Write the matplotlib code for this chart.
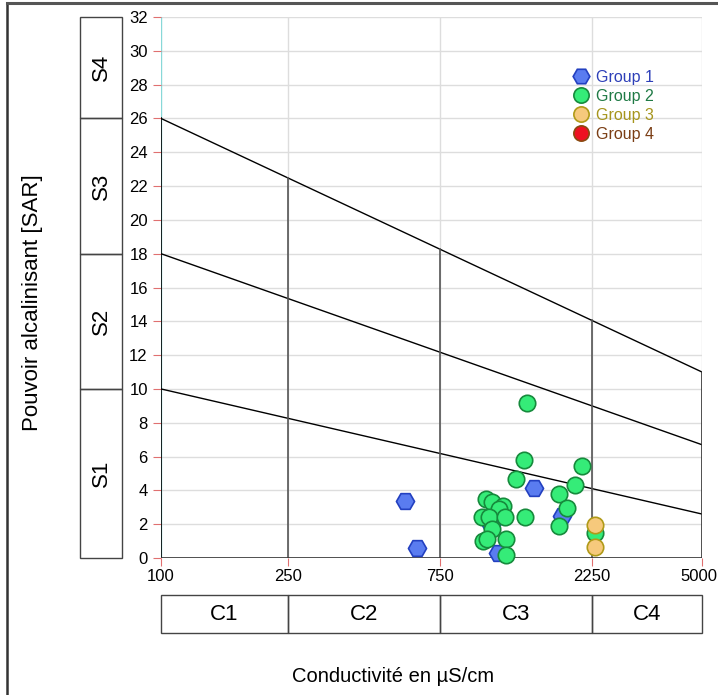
import numpy as np
import matplotlib.pyplot as plt
import matplotlib.transforms as mtransforms
from matplotlib.lines import Line2D
from matplotlib.patches import Rectangle

plt.rcParams['font.family'] = ['Liberation Sans', 'DejaVu Sans']

# data (EC in uS/cm, SAR)
g1_ec  = [582, 635, 1487, 1820, 1147, 1090]
g1_sar = [3.37, 0.62, 4.15, 2.5, 0.28, 1.95]

g2_ec  = [1414, 1384, 2103, 1306, 2000, 1782, 1052, 1099, 1189, 1155, 1880,
          1022, 1075, 1207, 1394, 1099, 1782, 2310, 1216, 1029, 1060, 1216]
g2_sar = [9.15, 5.8, 5.45, 4.7, 4.3, 3.8, 3.5, 3.3, 3.1, 2.9, 2.95,
          2.4, 2.45, 2.4, 2.4, 1.7, 1.9, 1.45, 1.15, 1.0, 1.15, 0.15]

g3_ec  = [2310, 2310]
g3_sar = [1.95, 0.65]

groups = ['Group 1', 'Group 2', 'Group 3', 'Group 4']

# class limits
ec_limits = [100, 250, 750, 2250, 5000]
ec_classes = ['C1', 'C2', 'C3', 'C4']
sar_limits = [0, 10, 18, 26, 32]
sar_classes = ['S1', 'S2', 'S3', 'S4']
# boundary lines: SAR at EC=100 and at EC=5000
line_start = [10, 18, 26]
line_end = [2.6, 6.7, 11.0]

fig = plt.figure(figsize=(7.18, 6.95), dpi=100)

ax = fig.add_axes([161/718, 1-558/695, 541/718, 541/695])
ax.set_xscale('log')
ax.set_xlim(100, 5000)
ax.set_ylim(0, 32)
for s in ax.spines.values():
    s.set_visible(False)

# grid
for yv in range(0, 33, 2):
    ax.plot([100, 5000], [yv, yv], color='#dddddd', lw=1, zorder=0)
for xv in ec_limits[1:]:
    ax.plot([xv, xv], [0, 32], color='#dddddd', lw=1, zorder=0)
ax.plot([100, 100], [0, 32], color='#88d8d8', lw=1, zorder=1)

def top_line(ec, a, b):
    f = np.log10(ec/100)/np.log10(50)
    return a - (a-b)*f

for a, b in zip(line_start, line_end):
    ax.plot([100, 5000], [a, b], color='black', lw=1, zorder=2)
for xv in ec_limits[1:-1]:
    ax.plot([xv, xv], [0, top_line(xv, line_start[-1], line_end[-1])],
            color='#555555', lw=1.2, zorder=2)
ax.plot([100, 100], [0, 26], color='black', lw=1.2, zorder=2)
ax.plot([5000, 5000], [0, line_end[-1]], color='#333333', lw=1.2, zorder=2)
ax.plot([100, 5000], [0, 0], color='#333333', lw=1.2, zorder=2)

ax.set_yticks(range(0, 33, 2))
ax.set_xticks(ec_limits)
ax.set_xticklabels([str(v) for v in ec_limits])
ax.xaxis.set_minor_locator(plt.NullLocator())
ax.tick_params(axis='both', colors='#e07070', labelcolor='black', labelsize=12,
               length=6, width=0.8)
ax.tick_params(axis='x', pad=2)
# keep the last tick label inside the figure
last = ax.get_xticklabels()[-1]
last.set_transform(last.get_transform() +
                   mtransforms.ScaledTranslation(-3/100, 0, fig.dpi_scale_trans))

ax.scatter(g1_ec, g1_sar, marker='H', s=170, facecolor='#5a7cf0',
           edgecolor='#2340c0', lw=1.2, zorder=3, clip_on=False)
ax.scatter(g2_ec, g2_sar, marker='o', s=140, facecolor='#35ec78',
           edgecolor='#168a3c', lw=1.2, zorder=4, clip_on=False)
ax.scatter(g3_ec, g3_sar, marker='o', s=140, facecolor='#f6c97c',
           edgecolor='#b09a18', lw=1.2, zorder=5, clip_on=False)

handles = [
    Line2D([], [], ls='none', marker='H', ms=12, mfc='#5a7cf0', mec='#2340c0', mew=1.2),
    Line2D([], [], ls='none', marker='o', ms=11, mfc='#35ec78', mec='#168a3c', mew=1.2),
    Line2D([], [], ls='none', marker='o', ms=11, mfc='#f6c97c', mec='#b09a18', mew=1.2),
    Line2D([], [], ls='none', marker='o', ms=11, mfc='#ee1122', mec='#8a4a10', mew=1.2),
]
ax.legend(handles, groups, loc='upper left', bbox_to_anchor=(561/718, 1-62/695),
          bbox_transform=fig.transFigure, frameon=False, fontsize=11.5,
          handletextpad=0.2, labelspacing=0.25, borderpad=0, handlelength=1.5,
          labelcolor=['#2d3fb8', '#1f7a45', '#a6951c', '#7a3d14'])

# S boxes on the left
axs = fig.add_axes([80/718, 1-558/695, 42/718, 541/695], sharey=ax)
axs.axis('off')
for lo, hi, lab in zip(sar_limits[:-1], sar_limits[1:], sar_classes):
    axs.add_patch(Rectangle((0, lo), 1, hi-lo, fill=False, ec='#444444', lw=1,
                            clip_on=False))
    axs.text(0.5, (lo+hi)/2, lab, rotation=90, ha='center', va='center', fontsize=16)
axs.set_xlim(0, 1)

# C boxes at the bottom
axc = fig.add_axes([161/718, 1-633/695, 541/718, 38/695])
axc.set_xscale('log')
axc.set_xlim(100, 5000)
axc.set_ylim(0, 1)
axc.axis('off')
for lo, hi, lab in zip(ec_limits[:-1], ec_limits[1:], ec_classes):
    axc.add_patch(Rectangle((lo, 0), hi-lo, 1, fill=False, ec='#444444', lw=1,
                            clip_on=False))
    axc.text(np.sqrt(lo*hi), 0.5, lab, ha='center', va='center', fontsize=16)

fig.text(393/718, 1-677/695, 'Conductivité en µS/cm', ha='center', va='center', fontsize=14.5)
fig.text(33/718, 1-303/695, 'Pouvoir alcalinisant [SAR]', rotation=90,
         ha='center', va='center', fontsize=16)

# outer frame
fig.add_artist(Line2D([7/718, 7/718], [0, 1-3/695], color='#333333', lw=1.8))
fig.add_artist(Line2D([7/718, 1], [1-3/695, 1-3/695], color='#555555', lw=2.2))

fig.savefig('out.png', dpi=100)
